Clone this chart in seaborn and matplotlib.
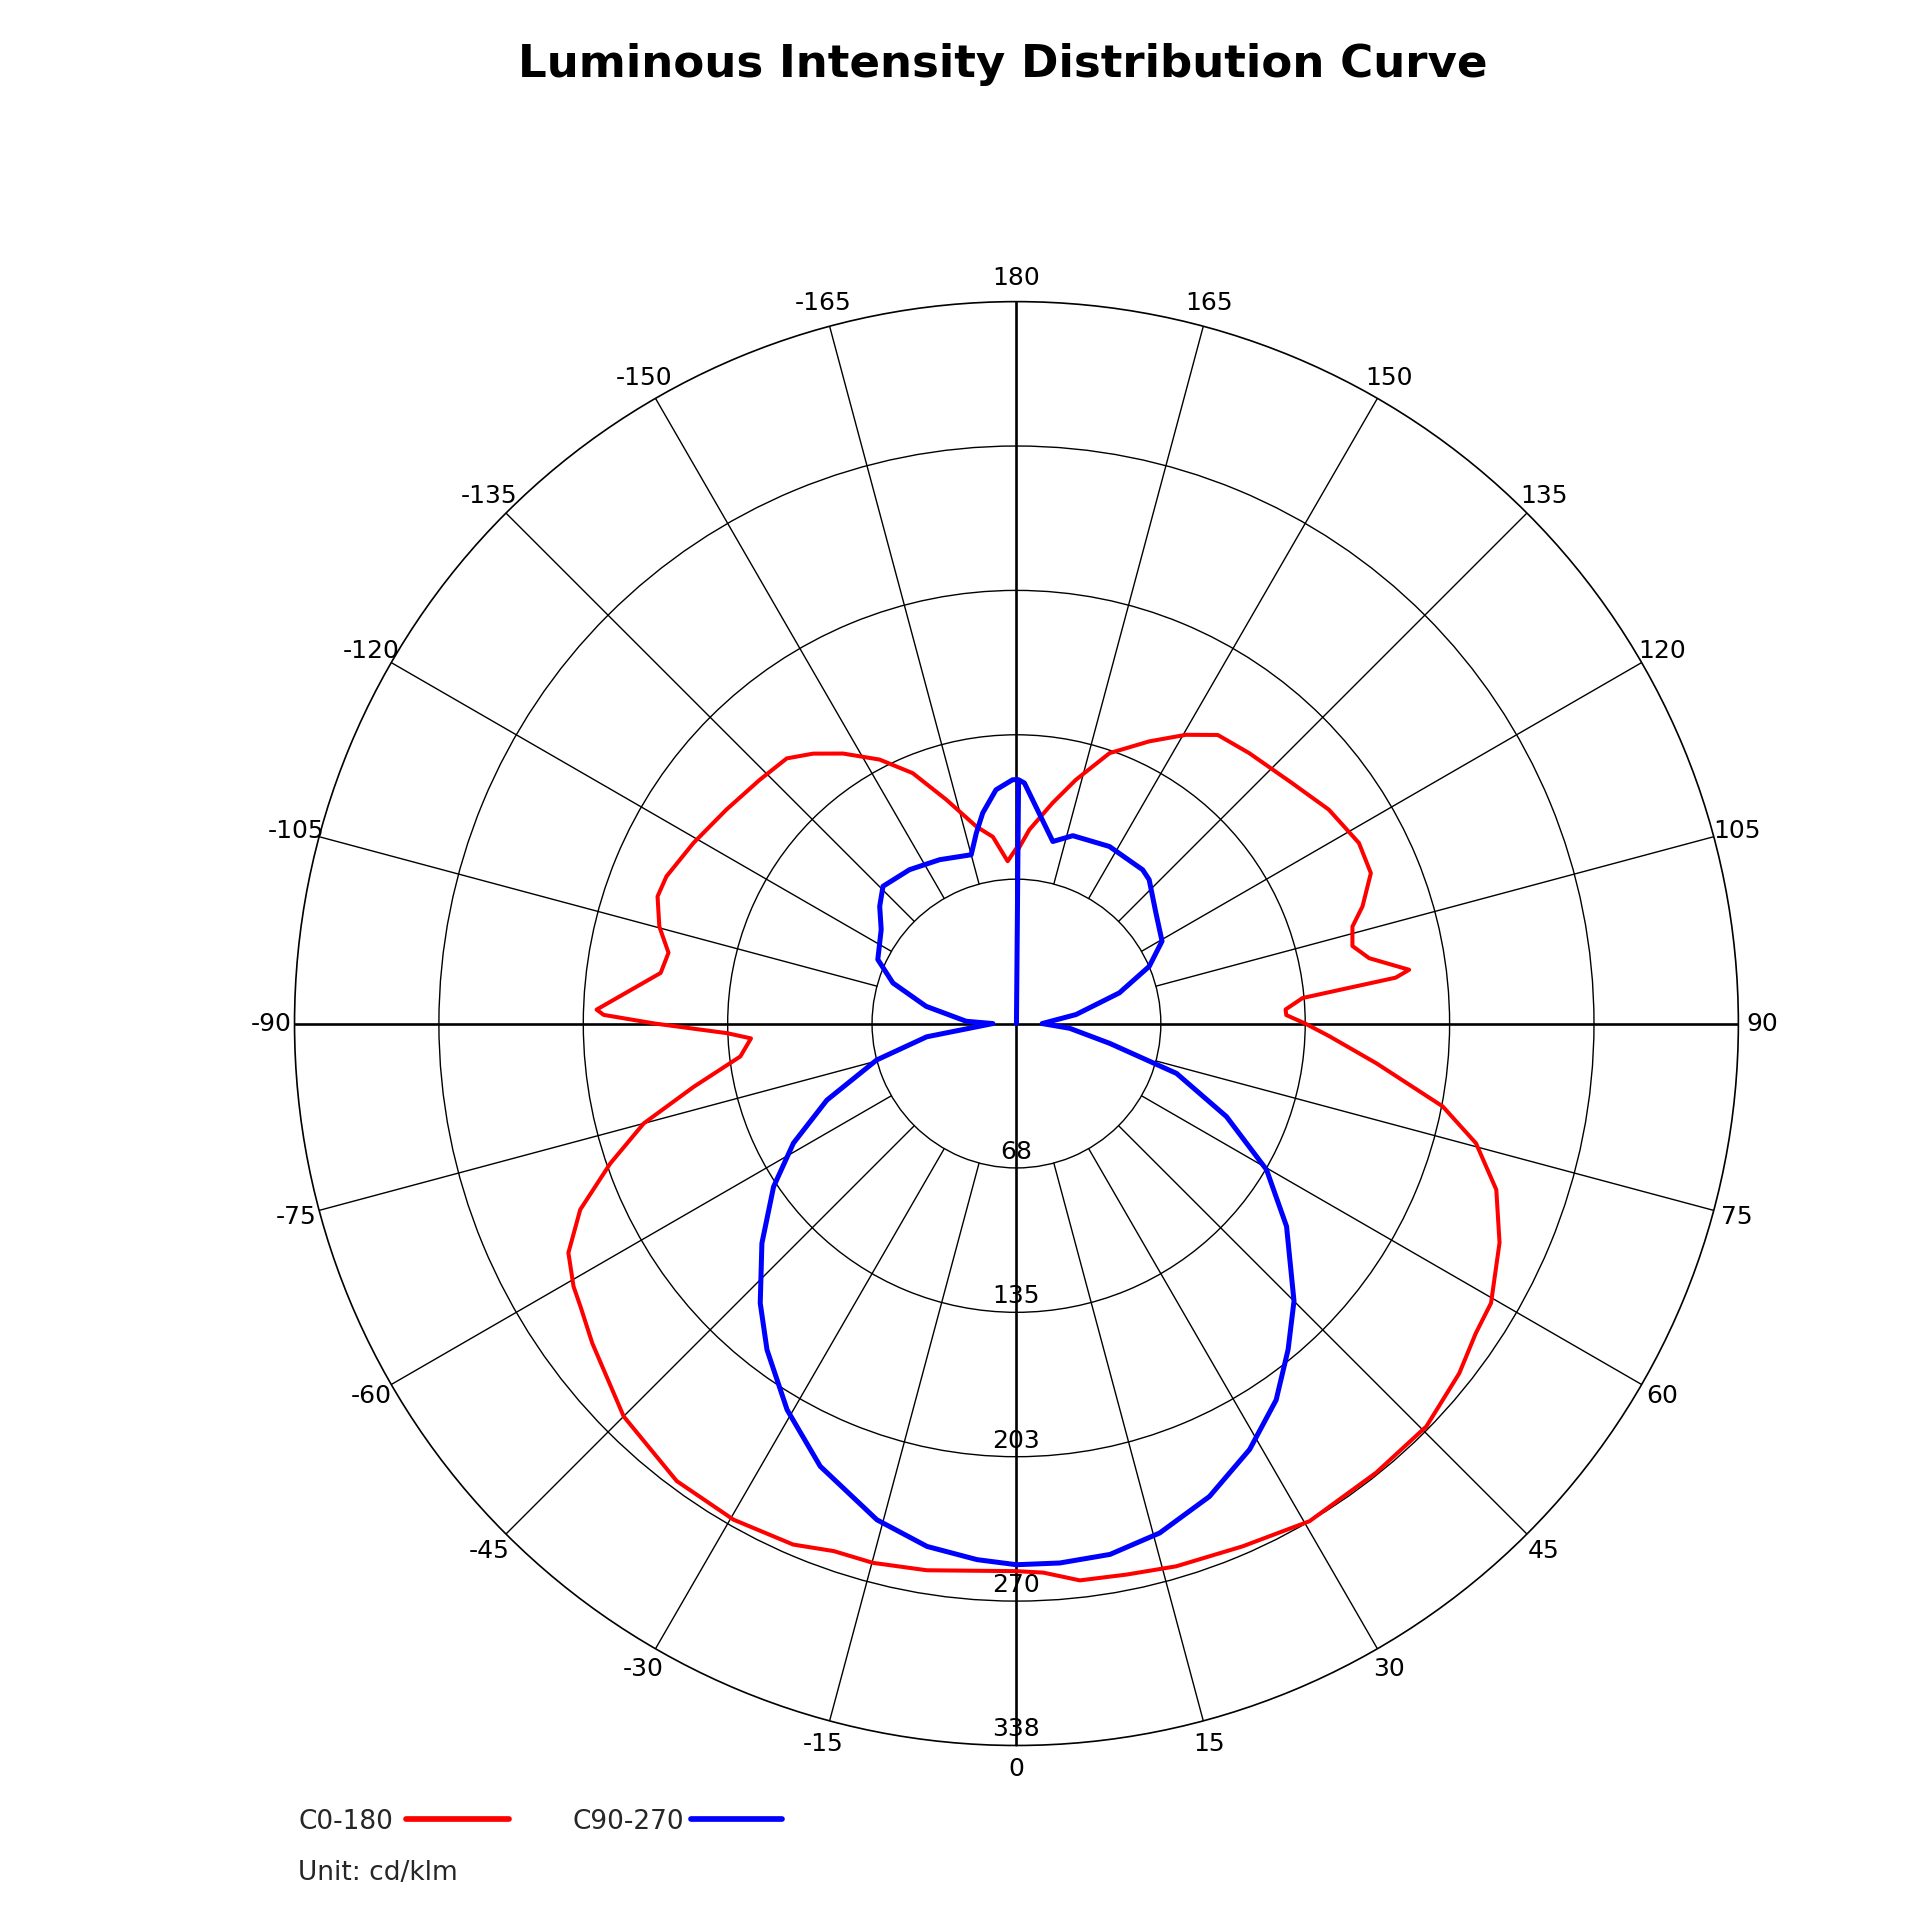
import numpy as np
import matplotlib
matplotlib.use('Agg')
import matplotlib.pyplot as plt
from matplotlib.lines import Line2D
import seaborn as sns

# C0-180 plane, gamma angle (deg) -> intensity (cd/klm)
c0_angles = [-180, -176.9, -172.8, -168.5, -162.6, -157.5, -152.6, -147.3, -143, -139.1,
             -133.5, -126.4, -119.2, -112.8, -109.5, -105.2, -101.5, -98.1, -91.9, -91.2,
             -90, -88.1, -86.8, -83.2, -78.9, -75, -71, -66.9, -62.9, -59.3,
             -57, -53, -45, -36.6, -29.7, -23.2, -19.1, -14.9, -9.3, 0,
             2.8, 6.5, 11.3, 16.4, 23.4, 30.5, 38.7, 45.5, 51.7, 56,
             59.5, 65.6, 70.9, 75.4, 79, 83.7, 87.7, 90, 91.8, 93,
             95.1, 96, 96.9, 97.8, 100.5, 103, 106.1, 108.7, 113, 117.8,
             124.4, 131.1, 139.3, 145.1, 149.6, 154.8, 161, 166.3, 170.7, 176.2, 180]
c0_values = [82, 76, 88, 94, 109.7, 126.7, 139, 150, 158, 164,
             165.5, 168.5, 173, 177.5, 178, 173, 166, 168, 196.4, 193,
             169, 135.4, 124.3, 130, 153.8, 180.4, 200.8, 221.7, 235.3, 240.8,
             243, 248.3, 259.7, 266.4, 267, 265, 261, 260.9, 259, 256,
             257, 262, 262.7, 264.5, 266.3, 270, 269, 268.7, 263.8, 259,
             257.5, 248, 237.4, 222, 203, 169.3, 146.3, 135, 126.2, 126,
             134.3, 153.2, 178.6, 185.3, 167.7, 161.2, 163.5, 170.8, 180, 181,
             177, 171, 166.8, 164.5, 156.5, 145.8, 133.7, 117.3, 104.5, 90.8, 80]

# C90-270 plane
c90_angles = [-180, -179.1, -175, -170.9, -168.1, -165, -154.9, -145.2, -135.8, -130.6,
              -124.8, -114.8, -108.2, -100.8, -92.6, -90, -81.6, -75.4, -68, -61.8,
              -56.1, -49.2, -42.5, -37.4, -30.7, -23.9, -15.7, -9.7, -4.2, 0,
              4.6, 10, 15.7, 22.2, 28.7, 34.6, 39.8, 45, 53.1, 59.7,
              66.1, 72.7, 78, 84.9, 90, 98.6, 106.6, 113.3, 119.5, 128.4,
              137.3, 140.6, 152.3, 163.3, 168.7, 178.1, 179.5, 180]
c90_values = [114, 114, 109.7, 99.7, 91, 81.7, 84.6, 87.6, 89.5, 84.2,
              77, 71.4, 60.8, 43, 23.5, 11, 42.4, 67.5, 95.6, 118.3,
              136.8, 157.2, 177.3, 192, 210, 226.4, 241, 248, 251.3, 253,
              253, 252, 247.4, 238.8, 227, 213.8, 198.4, 183.5, 157.9, 135.4,
              107.4, 78.4, 44.6, 25, 12, 28.2, 50.2, 67.6, 78.2, 83.2,
              91.5, 93, 93.5, 91.7, 86.8, 112.5, 114, 0]

ring_values = [67.5, 135, 202.5, 270, 337.5]
ring_labels = ['68', '135', '203', '270', '338']
tick_angles = list(range(-165, 181, 15))
tick_labels = [str(a) for a in tick_angles]
r_max = ring_values[-1]

sns.set_style('white')
plt.rcParams['font.family'] = ['DejaVu Sans']

fig = plt.figure(figsize=(19.2, 19.2), dpi=100)
ax = fig.add_axes([0.1534, 0.0909, 0.752, 0.752], projection='polar')
ax.set_theta_zero_location('S')
ax.set_theta_direction(1)

# rings (grid) and spokes
ax.set_yticks(ring_values[:-1])
ax.set_yticklabels([])
ax.yaxis.grid(True, color='black', linewidth=1.0)
ax.xaxis.grid(False)
ax.spines['polar'].set_color('black')
ax.spines['polar'].set_linewidth(1.2)

for a in tick_angles:
    t = np.deg2rad(a)
    if a % 90 == 0:
        ax.plot([t, t], [0, r_max], color='black', lw=1.9, zorder=1)
    else:
        ax.plot([t, t], [ring_values[0], r_max], color='black', lw=1.0, zorder=1)

# curves
sns.lineplot(x=np.deg2rad(c0_angles), y=c0_values, ax=ax, sort=False, estimator=None,
             color='#ff0000', lw=2.9, zorder=3)
sns.lineplot(x=np.deg2rad(c90_angles), y=c90_values, ax=ax, sort=False, estimator=None,
             color='#0000ff', lw=3.6, zorder=4)

ax.set_ylim(0, r_max)
ax.set_xticks(np.deg2rad(np.mod(tick_angles, 360)), tick_labels)
ax.tick_params(axis='x', length=0, pad=10, labelsize=18, colors='black')

for rv, lab in zip(ring_values, ring_labels):
    ax.annotate(lab, xy=(0, rv), xytext=(0, 3), textcoords='offset points',
                ha='center', va='bottom', fontsize=18, color='black', zorder=5)

# title
fig.text(1003 / 1920, 1 - 77 / 1920, 'Luminous Intensity Distribution Curve',
         ha='center', va='baseline', fontsize=32.5, fontweight='bold', color='black')

# legend drawn by hand
y_leg = 1 - 1829 / 1920
y_line = 1 - 1819 / 1920
fig.text(298 / 1920, y_leg, 'C0-180', ha='left', va='baseline', fontsize=19)
fig.add_artist(Line2D([406 / 1920, 509 / 1920], [y_line] * 2, color='#ff0000', lw=4.1))
fig.text(572 / 1920, y_leg, 'C90-270', ha='left', va='baseline', fontsize=19)
fig.add_artist(Line2D([691 / 1920, 782 / 1920], [y_line] * 2, color='#0000ff', lw=4.1))
fig.text(298 / 1920, 1 - 1880 / 1920, 'Unit: cd/klm', ha='left', va='baseline', fontsize=19)

fig.savefig('out.png', dpi=100, facecolor='white')
plt.close()
